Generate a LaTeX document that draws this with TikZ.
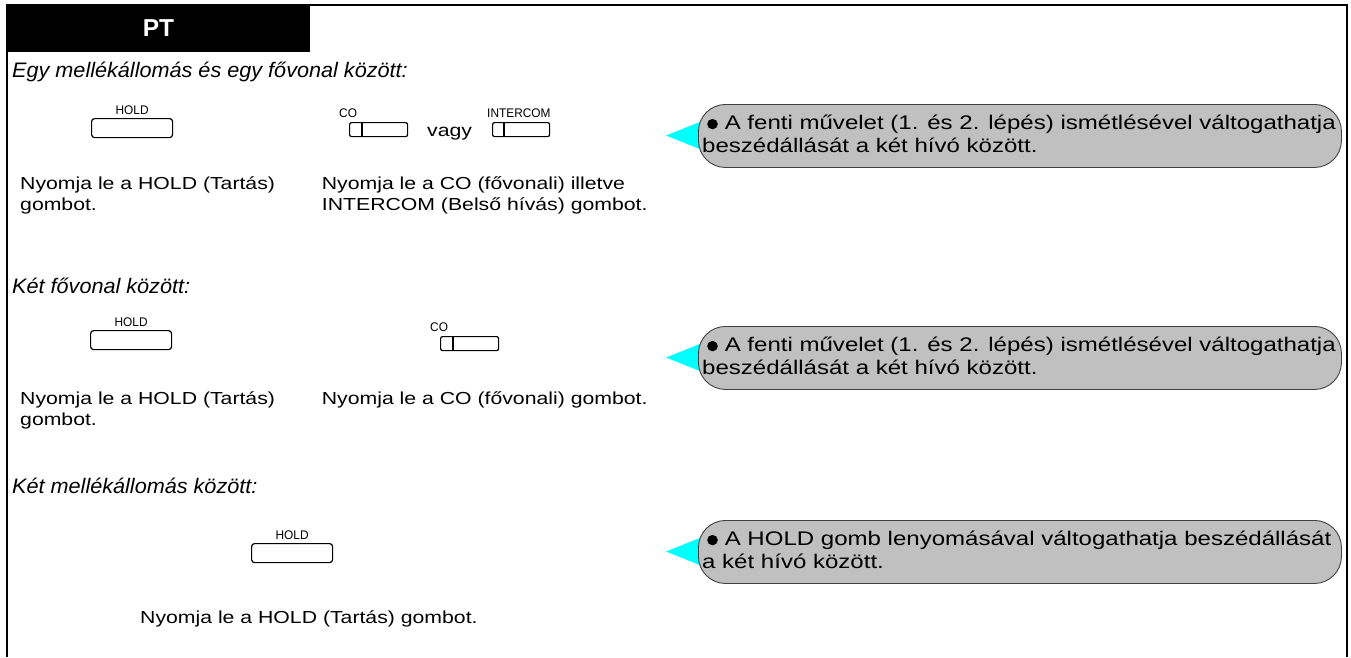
\documentclass[tikz,border=0pt]{standalone}
\usepackage{fontspec}
\setmainfont{Liberation Sans}
\newfontfamily\bodyfont{Liberation Sans}[FakeStretch=1.22]
\newfontfamily\headfont{Liberation Sans}[FakeStretch=1.03]
\newfontfamily\tagfont{Liberation Sans}[FakeStretch=0.95]
\usetikzlibrary{positioning, calc}
\definecolor{notegray}{RGB}{192,192,192}
\definecolor{noteline}{RGB}{64,64,64}
\definecolor{pointcolor}{RGB}{0,255,255}
\newcommand{\notedot}{\tikz[baseline=0pt]\fill (0pt,5.2pt) circle[x radius=5.3pt, y radius=5.2pt];}
\tikzset{
  pageframe/.style={line width=1.4pt},
  headbar/.style={fill=black, minimum width=303pt, minimum height=47pt,
                  inner sep=0pt, text=white,
                  font=\bfseries\fontsize{24.5}{28}\selectfont},
  heading/.style={anchor=base west, inner sep=0pt,
                  font=\headfont\itshape\fontsize{21}{25}\selectfont},
  bodytext/.style={anchor=base west, inner sep=0pt, align=left,
                   font=\bodyfont\fontsize{17.4}{20.7}\selectfont},
  widekey/.style={draw, line width=1.2pt, rounded corners=3pt,
                  anchor=north west, minimum width=81pt,
                  minimum height=19pt, inner sep=0pt},
  linekey/.style={draw, line width=1.2pt, rounded corners=2pt,
                  anchor=north west, minimum width=58pt,
                  minimum height=14pt, inner sep=0pt},
  keytag/.style={inner sep=0pt, font=\tagfont\fontsize{12.5}{14}\selectfont},
  notebox/.style={draw=noteline, fill=notegray, line width=0.9pt,
                  rounded corners=27pt, anchor=north west,
                  minimum width=643pt, minimum height=63pt, inner sep=0pt},
  notetext/.style={anchor=base west, inner sep=0pt, align=left,
                   font=\bodyfont\fontsize{19.7}{23}\selectfont},
  pointer/.style={fill=pointcolor},
}

\begin{document}
\begin{tikzpicture}[x=1pt, y=-1pt]
  \useasboundingbox (0,0) rectangle (1351,657);

  % --- Frame and header ---
  \draw[pageframe] (7,657) -- (7,5) -- (1347,5) -- (1347,657);
  \node[headbar] (head) at (158.5,28.5) {PT};

  % --- Section 1 ---
  \node[heading] (h1) at (12,77) {Egy mellékállomás és egy fővonal között:};

  \node[widekey] (hold1) at (91,118) {};
  \node[keytag, above=3pt of hold1] {HOLD};

  \node[linekey] (co1) at (349,122) {};
  \draw[line width=1.2pt] ($(co1.north west)+(13,0)$) -- ($(co1.south west)+(13,0)$);
  \node[keytag, anchor=south west, xshift=-10pt, yshift=4pt] at (co1.north west) {CO};

  \node[bodytext] (or1) at (427,136.7) {vagy};

  \node[linekey, minimum width=57pt] (ic1) at (492,122) {};
  \draw[line width=1.2pt] ($(ic1.north west)+(12,0)$) -- ($(ic1.south west)+(12,0)$);
  \node[keytag, anchor=south west, xshift=-5pt, yshift=4pt] at (ic1.north west) {INTERCOM};

  \node[bodytext] (t1a) at (20,210) {Nyomja le a HOLD (Tartás)\\gombot.};
  \node[bodytext] (t1b) at (321.7,210)
    {Nyomja le a CO (fővonali) illetve\\INTERCOM (Belső hívás) gombot.};

  \fill[pointer] (666,135.5) -- (706,119.5) -- (706,151.5) -- cycle;
  \node[notebox] (note1) at (698,104) {};
  \node[notetext] (n1) at (702,152.3)
    {\hspace*{5pt}\notedot\hspace{7pt}A fenti művelet (1. és 2. lépés) ismétlésével váltogathatja\\beszédállását a két hívó között.};

  % --- Section 2 ---
  \node[heading] (h2) at (12,293) {Két fővonal között:};

  \node[widekey] (hold2) at (90,330) {};
  \node[keytag, above=3pt of hold2] {HOLD};

  \node[linekey] (co2) at (440,336) {};
  \draw[line width=1.2pt] ($(co2.north west)+(13,0)$) -- ($(co2.south west)+(13,0)$);
  \node[keytag, anchor=south west, xshift=-10pt, yshift=4pt] at (co2.north west) {CO};

  \node[bodytext] (t2a) at (20,425.2) {Nyomja le a HOLD (Tartás)\\gombot.};
  \node[bodytext] (t2b) at (321.7,404.5) {Nyomja le a CO (fővonali) gombot.};

  \fill[pointer] (666,357.5) -- (706,341.5) -- (706,373.5) -- cycle;
  \node[notebox] (note2) at (698,326) {};
  \node[notetext] (n2) at (702,374.3)
    {\hspace*{5pt}\notedot\hspace{7pt}A fenti művelet (1. és 2. lépés) ismétlésével váltogathatja\\beszédállását a két hívó között.};

  % --- Section 3 ---
  \node[heading] (h3) at (12,493) {Két mellékállomás között:};

  \node[widekey] (hold3) at (251,543) {};
  \node[keytag, above=3pt of hold3] {HOLD};

  \node[bodytext] (t3) at (140,623) {Nyomja le a HOLD (Tartás) gombot.};

  \fill[pointer] (666,551.5) -- (706,535.5) -- (706,567.5) -- cycle;
  \node[notebox] (note3) at (698,520) {};
  \node[notetext] (n3) at (702,568.3)
    {\hspace*{5pt}\notedot\hspace{7pt}A HOLD gomb lenyomásával váltogathatja beszédállását\\a két hívó között.};

\end{tikzpicture}
\end{document}
